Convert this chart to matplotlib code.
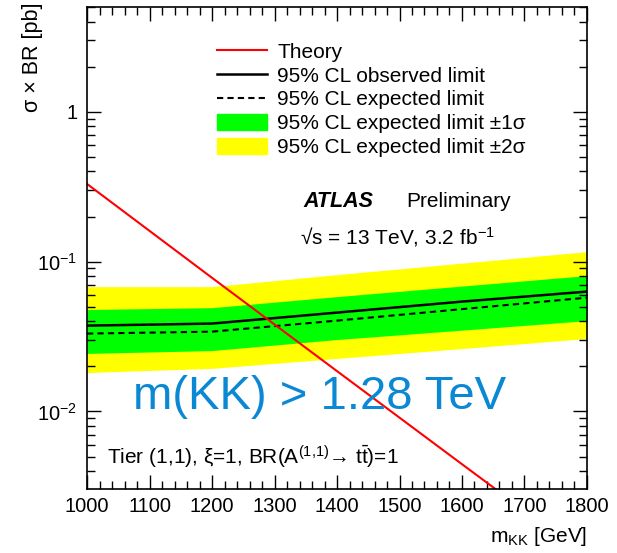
import math
import matplotlib.pyplot as plt
from matplotlib.lines import Line2D
from matplotlib.patches import Patch
from matplotlib.ticker import MultipleLocator, LogLocator, FuncFormatter, NullFormatter

plt.rcParams['font.family'] = ['Liberation Sans', 'DejaVu Sans']
plt.rcParams['mathtext.fontset'] = 'custom'
plt.rcParams['mathtext.rm'] = 'Liberation Sans'
plt.rcParams['mathtext.it'] = 'Liberation Sans:italic'
plt.rcParams['mathtext.bf'] = 'Liberation Sans:bold'

# KK mass points [GeV] and cross-section limits [pb]
mass = [1000, 1200, 1400, 1600, 1800]
theory = [0.330, 0.0780, 0.0186, 0.00445, 0.00107]
observed = [0.0374, 0.0386, 0.0457, 0.0541, 0.0631]
expected = [0.0331, 0.0341, 0.0404, 0.0482, 0.0575]
band1_up = [0.0479, 0.0493, 0.0584, 0.0687, 0.0807]
band1_dn = [0.0244, 0.0255, 0.0302, 0.0349, 0.0404]
band2_up = [0.0681, 0.0681, 0.0819, 0.0977, 0.1166]
band2_dn = [0.0182, 0.0194, 0.0226, 0.0263, 0.0307]

fig = plt.figure(figsize=(6.17, 5.53), dpi=100)
ax = fig.add_axes([87/617, 1-489/553, 500/617, 482/553])

ax.fill_between(mass, band2_dn, band2_up, color='#ffff00', lw=0)
ax.fill_between(mass, band1_dn, band1_up, color='#00ff00', lw=0)
ax.plot(mass, expected, color='black', ls=(0, (3, 2)), lw=1.5)
ax.plot(mass, observed, color='black', lw=1.8)
ax.plot(mass, theory, color='#ff0000', lw=1.5)

ax.set_yscale('log')
ax.set_xlim(1000, 1800)
ax.set_ylim(3.04e-3, 5.0)

# ROOT-like ticks
ax.xaxis.set_major_locator(MultipleLocator(100))
ax.xaxis.set_minor_locator(MultipleLocator(20))
ax.yaxis.set_major_locator(LogLocator(base=10))
ax.yaxis.set_minor_locator(LogLocator(base=10, subs=range(2, 10)))
ax.yaxis.set_minor_formatter(NullFormatter())


def ylab(v, pos):
    if abs(v - 1) < 1e-9:
        return '1'
    return r'$\mathregular{10^{%d}}$' % int(round(math.log10(v)))


ax.yaxis.set_major_formatter(FuncFormatter(ylab))
ax.tick_params(which='both', direction='in', top=True, right=True, labelsize=14.5, width=1)
ax.tick_params(which='major', length=10)
ax.tick_params(which='minor', length=5.5)
ax.tick_params(axis='x', which='major', pad=6)
ax.tick_params(axis='y', which='major', pad=7)
for s in ax.spines.values():
    s.set_linewidth(1.2)

ax.set_ylabel('σ × BR [pb]', fontsize=15.5, loc='top')
ax.yaxis.set_label_coords(-0.088, 1.01)
ax.set_xlabel(r'$\mathregular{m_{KK}}$ [GeV]', fontsize=15, loc='right')
ax.xaxis.set_label_coords(1.0, -0.075)

handles = [Line2D([], [], color='#ff0000', lw=1.5),
           Line2D([], [], color='black', lw=1.8),
           Line2D([], [], color='black', ls=(0, (3, 2)), lw=1.5),
           Patch(color='#00ff00'),
           Patch(color='#ffff00')]
labels = ['Theory', '95% CL observed limit', '95% CL expected limit',
          '95% CL expected limit ±1σ', '95% CL expected limit ±2σ']
ax.legend(handles, labels, loc='upper left', bbox_to_anchor=(0.26, 0.926),
          frameon=False, fontsize=15, handlelength=2.4, handletextpad=0.5,
          labelspacing=0.22, borderpad=0, borderaxespad=0, handleheight=0.8)

ax.text(0.432, 0.585, 'ATLAS', transform=ax.transAxes, fontsize=15.5,
        fontweight='bold', fontstyle='italic', va='baseline')
ax.text(0.638, 0.585, 'Preliminary', transform=ax.transAxes, fontsize=15, va='baseline')
ax.text(0.426, 0.508, r'√s = 13 TeV, 3.2 fb$^{\mathregular{-1}}$', transform=ax.transAxes,
        fontsize=15, va='baseline')
ax.text(0.04, 0.05, r'Tier (1,1), ξ=1, BR($\mathregular{A^{(1{,}1)}}$→ $\mathregular{t\bar{t}}$)=1',
        transform=ax.transAxes, fontsize=15, va='baseline')
ax.text(0.466, 0.191, 'm(KK) > 1.28 TeV', transform=ax.transAxes, fontsize=34,
        color='#0a88d4', ha='center', va='center')

fig.savefig('out.png', dpi=100)
